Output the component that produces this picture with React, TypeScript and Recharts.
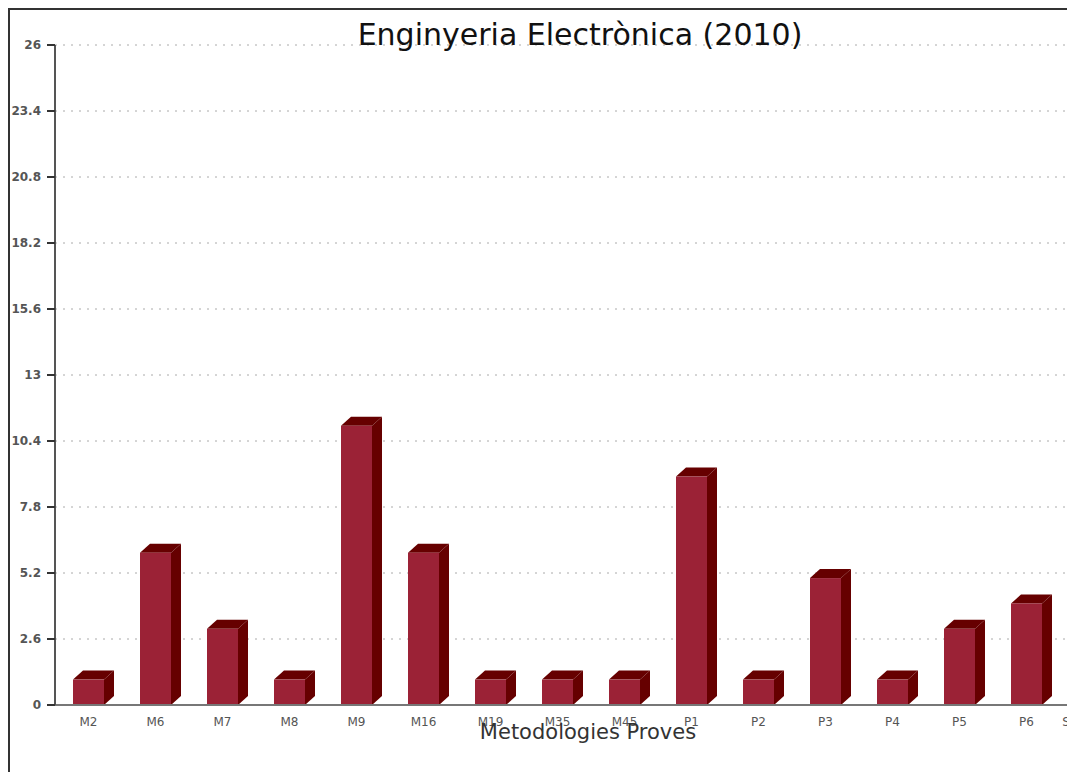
import { BarChart, Bar, XAxis, YAxis, CartesianGrid } from "recharts";

// Categories along the x axis (the last one is cut off by the picture's right edge)
const categories = [
  "M2", "M6", "M7", "M8", "M9", "M16", "M19", "M35",
  "M45", "P1", "P2", "P3", "P4", "P5", "P6", "Sense info",
];
// bar heights; the last bar sits outside the visible area, so it is left empty
const counts = [1, 6, 3, 1, 11, 6, 1, 1, 1, 9, 1, 5, 1, 3, 4, null];
const yTicks = [0, 2.6, 5.2, 7.8, 10.4, 13, 15.6, 18.2, 20.8, 23.4, 26];

const data = categories.map((name, i) => ({ name, value: counts[i] }));

const FRONT = "#9b2236";
const DARK = "#660000";
const DX = 10;
const DY = 9;
const FONT = "'DejaVu Sans', Verdana, sans-serif";

// front face + darker top and side faces, like the old flash-style 3D bars
function Bar3D(props: any) {
  const { x, y, width, height } = props;
  if (height == null || height <= 0) return null;
  const base = y + height;
  const r = x + width;
  return (
    <g>
      <polygon
        points={`${x},${y} ${x + DX},${y - DY} ${r + DX},${y - DY} ${r},${y}`}
        fill={DARK}
      />
      <polygon
        points={`${r},${y} ${r + DX},${y - DY} ${r + DX},${base - DY} ${r},${base}`}
        fill={DARK}
      />
      <rect x={x} y={y} width={width} height={height} fill={FRONT} />
    </g>
  );
}

export default function App() {
  return (
    <div
      style={{
        position: "fixed",
        left: 0,
        top: 0,
        width: 1067,
        height: 772,
        overflow: "hidden",
        background: "#fff",
        fontFamily: FONT,
      }}
    >
      {/* frame, only top and left edges fall inside the picture */}
      <div
        style={{
          position: "absolute",
          left: 8,
          top: 8,
          width: 1200,
          height: 900,
          borderTop: "2px solid #333",
          borderLeft: "2px solid #333",
        }}
      />
      <div style={{ position: "absolute", left: 0, top: 0 }}>
        <BarChart
          width={1140}
          height={772}
          data={data}
          margin={{ top: 45, right: 13, bottom: 37, left: 0 }}
        >
          <CartesianGrid
            vertical={false}
            stroke="#aaa"
            strokeDasharray="2 6"
          />
          <XAxis
            dataKey="name"
            height={30}
            interval={0}
            tickLine={false}
            tickMargin={6}
            axisLine={{ stroke: "#777", strokeWidth: 2 }}
            tick={{ fontSize: 12, fill: "#555", fontFamily: FONT }}
          />
          <YAxis
            width={55}
            domain={[0, 26]}
            ticks={yTicks}
            interval={0}
            tickSize={8}
            tickMargin={6}
            tickLine={{ stroke: "#333", strokeWidth: 2 }}
            axisLine={{ stroke: "#555", strokeWidth: 2 }}
            tick={{ fontSize: 12, fill: "#555", fontWeight: "bold", fontFamily: FONT }}
          />
          <Bar
            dataKey="value"
            barSize={31}
            shape={(p: any) => <Bar3D {...p} />}
            isAnimationActive={false}
          />
        </BarChart>
      </div>
      <div
        style={{
          position: "absolute",
          left: 0,
          top: 20,
          width: 1160,
          textAlign: "center",
          fontSize: 30,
          lineHeight: "30px",
          color: "#111",
          whiteSpace: "nowrap",
        }}
      >
        Enginyeria Electrònica (2010)
      </div>
      <div
        style={{
          position: "absolute",
          left: 0,
          top: 722,
          width: 1176,
          textAlign: "center",
          fontSize: 21,
          lineHeight: "21px",
          color: "#333",
          whiteSpace: "nowrap",
        }}
      >
        Metodologies Proves
      </div>
    </div>
  );
}
